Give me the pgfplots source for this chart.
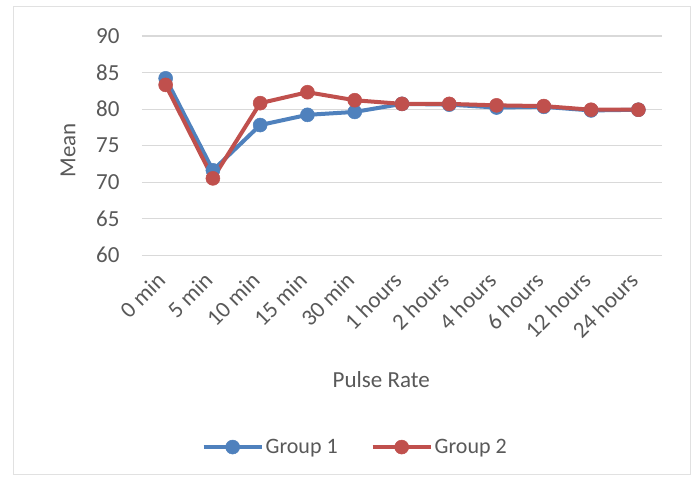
\documentclass[border=0pt]{standalone}
\usepackage{pgfplots}
\pgfplotsset{compat=1.18}
\usepackage{fontspec}
\setmainfont{Carlito}
\definecolor{txtgray}{HTML}{595959}
\definecolor{gridgray}{HTML}{D9D9D9}
\definecolor{gblue}{HTML}{4F81BD}
\definecolor{gred}{HTML}{C0504D}
\begin{document}
\begin{tikzpicture}[x=1pt,y=1pt]
  % page frame
  \path[fill=white] (0,0) rectangle (694,485);
  \draw[gridgray!80, line width=1pt] (13,10) rectangle (690,478);
  \begin{axis}[
    at={(142pt,230pt)}, anchor=south west,
    scale only axis, width=520pt, height=219pt,
    xmin=-0.5, xmax=10.5, ymin=60, ymax=90,
    xtick={0,...,10},
    xticklabels={0 min,5 min,10 min,15 min,30 min,1 hours,2 hours,4 hours,6 hours,12 hours,24 hours},
    ytick={60,65,...,90},
    axis line style={draw=none},
    ymajorgrids, grid style={gridgray, line width=1pt},
    tick style={draw=none},
    font=\fontsize{23}{27}\selectfont\color{txtgray},
    /pgf/number format/assume math mode=true,
    x tick label style={xshift=-2pt, yshift=-19pt, rotate=45, anchor=east},
    y tick label style={xshift=-19pt},
    xlabel={Pulse Rate}, ylabel={Mean},
    xlabel style={at={(axis description cs:0.46,-0.571)}, anchor=center},
    ylabel style={at={(axis description cs:-0.142,0.479)}, anchor=center, rotate=0},
    legend columns=2,
    legend style={at={(axis description cs:0.41,-0.877)}, anchor=center, draw=none,
      fill=none, font=\fontsize{22}{26}\selectfont\color{txtgray},
      /tikz/every even column/.append style={column sep=31pt}},
    legend image code/.code={%
      \draw[mark repeat=2, mark phase=2, #1] plot coordinates {(0pt,0pt) (29pt,0pt) (58pt,0pt)};},
    every axis plot/.append style={line width=4pt, mark=*, mark size=7pt},
    clip=false,
  ]
    \addplot[color=gblue, mark options={fill=gblue, draw=gblue, line width=0.5pt}] coordinates {
      (0,84.2) (1,71.6) (2,77.8) (3,79.2) (4,79.6) (5,80.7)
      (6,80.6) (7,80.2) (8,80.3) (9,79.8) (10,79.9)};
    \addlegendentry{Group 1}
    \addplot[color=gred, mark options={fill=gred, draw=gred, line width=0.5pt}] coordinates {
      (0,83.3) (1,70.5) (2,80.8) (3,82.3) (4,81.2) (5,80.7)
      (6,80.7) (7,80.5) (8,80.4) (9,79.9) (10,79.9)};
    \addlegendentry{Group 2}
  \end{axis}
\end{tikzpicture}
\end{document}
